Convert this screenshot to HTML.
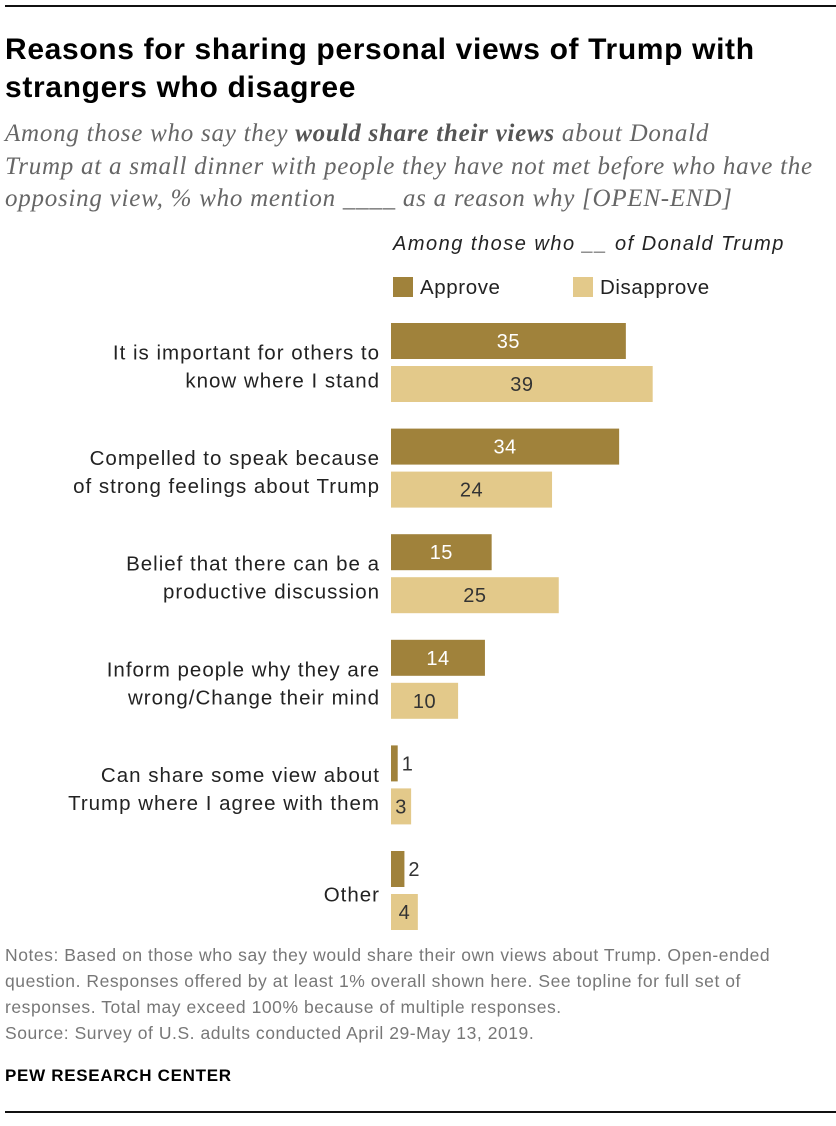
<!DOCTYPE html>
<html><head><meta charset="utf-8">
<style>
body{margin:0;width:836px;height:1126px;background:#fff;font-family:"Liberation Sans",sans-serif;position:relative;overflow:hidden;color:#222}
.abs{position:absolute}
</style></head>
<body>
<div class="abs" style="left:5px;top:5px;width:831px;height:2px;background:#111"></div>
<div class="abs" style="left:5px;top:31px;font-size:30px;font-weight:bold;line-height:38px;color:#000;letter-spacing:0.65px;white-space:nowrap">Reasons for sharing personal views of Trump with<br>strangers who disagree</div>
<div class="abs" style="left:5px;top:118px;font-family:'Liberation Serif',serif;font-style:italic;font-size:25px;line-height:32.5px;color:#666;white-space:nowrap;letter-spacing:0.75px">Among those who say they <b style="color:#555">would share their views</b> about Donald<br>Trump at a small dinner with people they have not met before who have the<br>opposing view, % who mention ____ as a reason why [OPEN-END]</div>
<div class="abs" style="left:393px;top:233px;font-size:20px;font-style:italic;color:#222;letter-spacing:1.5px">Among those who __ of Donald Trump</div>
<div class="abs" style="left:393px;top:276px;font-size:20.5px;letter-spacing:0.6px"><span style="display:inline-block;width:20px;height:20px;background:#a0823b;vertical-align:-3px;margin-right:7px"></span>Approve</div>
<div class="abs" style="left:573px;top:276px;font-size:20.5px;letter-spacing:0.6px"><span style="display:inline-block;width:20px;height:20px;background:#e3c98a;vertical-align:-3px;margin-right:7px"></span>Disapprove</div>
<svg class="abs" style="left:0;top:0" width="836" height="1126" id="chart"></svg>
<div class="abs" style="left:5px;top:942px;font-size:17.5px;line-height:26px;color:#777;width:830px;letter-spacing:0.55px">Notes: Based on those who say they would share their own views about Trump. Open-ended question. Responses offered by at least 1% overall shown here. See topline for full set of responses. Total may exceed 100% because of multiple responses.<br>Source: Survey of U.S. adults conducted April 29-May 13, 2019.</div>
<div class="abs" style="left:5px;top:1066px;font-size:17px;font-weight:bold;color:#000;letter-spacing:0.7px">PEW RESEARCH CENTER</div>
<div class="abs" style="left:5px;top:1111px;width:831px;height:2px;background:#111"></div>
<script>
const categories=[["It is important for others to","know where I stand"],["Compelled to speak because","of strong feelings about Trump"],["Belief that there can be a","productive discussion"],["Inform people why they are","wrong/Change their mind"],["Can share some view about","Trump where I agree with them"],["Other"]];
const approve=[35,34,15,14,1,2];
const disapprove=[39,24,25,10,3,4];
const svg=document.getElementById('chart');
const NS='http://www.w3.org/2000/svg';
const x0=391, scale=6.71, top0=323, gap=105.6, bh=36;
function x(v){return v*scale;}
function add(tag,attrs,name,text){const e=document.createElementNS(NS,tag);for(const k in attrs)e.setAttribute(k,attrs[k]);


if(text!==undefined)e.textContent=text;svg.appendChild(e);return e;}
categories.forEach((c,i)=>{
  const y=top0+i*gap;
  [[approve[i],'#a0823b','#fff','approve'],[disapprove[i],'#e3c98a','#333','disapprove']].forEach((s,j)=>{
    const yy=y+j*43, w=x(s[0]);
    add('rect',{x:x0,y:yy,width:w,height:bh,fill:s[1]},'bar-'+s[3]+'-'+i);
    const inside=w>17;
    add('text',{x:inside?x0+w/2:x0+w+4,y:yy+bh/2+7,'font-size':20,'letter-spacing':0.5,'text-anchor':inside?'middle':'start',fill:inside?s[2]:'#333','font-family':'Liberation Sans'},'value-'+s[3]+'-'+i,s[0]);
  });
  const lines=c, mid=y+bh+3.5;
  lines.forEach((l,k)=>{
    const ly=mid+(k-(lines.length-1)/2)*28+11;
    add('text',{x:380,y:ly,'font-size':20.5,'letter-spacing':1,'text-anchor':'end',fill:'#222','font-family':'Liberation Sans'},'category-label-'+i,l);
  });
});
</script>
</body></html>
